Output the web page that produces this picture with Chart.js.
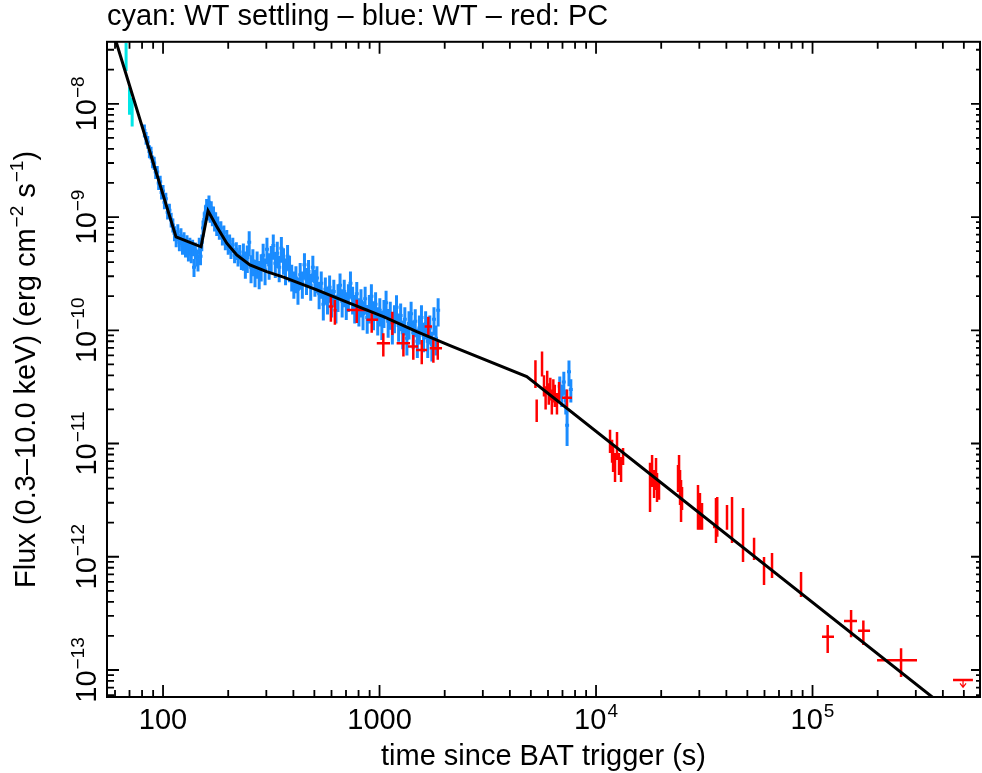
<!DOCTYPE html>
<html>
<head>
<meta charset="utf-8">
<script src="https://cdn.jsdelivr.net/npm/chart.js@4/dist/chart.umd.min.js"></script>
<style>
html,body{margin:0;padding:0;background:#ffffff;}
#wrap{width:982px;height:773px;}
canvas{display:block;}
</style>
</head>
<body>
<div id="wrap"><canvas id="c" width="982" height="773" style="width:982px;height:773px"></canvas></div>
<script>
// ---------- DATA ----------
const chartTitle = 'cyan: WT settling \u2013 blue: WT \u2013 red: PC';
const xAxisTitle = 'time since BAT trigger (s)';
const yAxisTitleParts = [['Flux (0.3\u201310.0 keV) (erg cm', false], ['\u22122', true], [' s', false], ['\u22121', true], [')', false]];

const xTickValues = [100, 1000, 1e4, 1e5];
const xTickLabels = [['100', ''], ['1000', ''], ['10', '4'], ['10', '5']];
const yTickValues = [1e-8, 1e-9, 1e-10, 1e-11, 1e-12, 1e-13];
const yTickLabels = [['10', '\u22128'], ['10', '\u22129'], ['10', '\u221210'], ['10', '\u221211'], ['10', '\u221212'], ['10', '\u221213']];

// WT settling (cyan)
const wtsTime = [67.5, 70, 72];
const wtsFlux = [2.7e-8, 1.1e-8, 8.8e-9];
const wtsErr  = [0.75e-8, 0.3e-8, 2.5e-9];

// WT (blue)
const wtTime = [82,83.5,85,86.5,88,89.5,91,92.5,94,95.5,97,98.5,100,101.5,103,105,107,109,111,113,
115,117,119,121,123,125,127,129,131,133,135,137,139,141,143,145,147,149,
151,153,155,157,159,161,163,165,167,169,171,173,175,177,179,182,185,188,191,194,197,200,203,206,210,214,218,222,226,230,
235,240,245,250,255,260,266,272,278,284,290,296,302,309,316,323,330,337,344,352,360,368,376,384,393,402,411,420,430,440,
450,460,470,481,492,503,514,526,538,550,562,575,588,601,615,629,643,657,672,687,702,718,734,751,768,785,803,821,839,858,
877,897,917,938,959,981,1003,1025,1048,1072,1096,1121,1146,1172,1198,1225,1252,1280,1309,1338,1368,1399,1430,1462,1495,
1528,1562,1597,1633,1670,1707,1745,1784,1824,1865,
6800,6950,7100,7250,7350,7500,7650];
const wtFlux = [5.8e-9,5.0e-9,4.6e-9,3.8e-9,3.7e-9,3.1e-9,3.0e-9,2.5e-9,2.5e-9,2.0e-9,2.05e-9,1.65e-9,1.7e-9,1.35e-9,1.45e-9,1.1e-9,1.15e-9,0.95e-9,0.85e-9,0.72e-9,
6.5e-10,7.4e-10,6.0e-10,6.8e-10,5.6e-10,6.3e-10,5.3e-10,5.9e-10,4.9e-10,5.6e-10,4.7e-10,5.4e-10,3.6e-10,5.1e-10,4.4e-10,4.0e-10,5.6e-10,4.5e-10,
6.0e-10,8.0e-10,9.5e-10,1.1e-9,1.25e-9,1.1e-9,1.35e-9,1.05e-9,1.2e-9,9.8e-10,1.08e-9,8.8e-10,9.6e-10,8.0e-10,8.8e-10,7.4e-10,8.0e-10,6.6e-10,7.3e-10,6.0e-10,6.7e-10,5.5e-10,6.1e-10,5.0e-10,5.7e-10,4.6e-10,5.2e-10,4.3e-10,4.9e-10,4.0e-10,
4.6e-10,3.9e-10,4.4e-10,6.0e-10,3.6e-10,4.1e-10,3.3e-10,3.9e-10,3.2e-10,3.7e-10,4.6e-10,3.4e-10,5.2e-10,3.8e-10,4.4e-10,5.6e-10,3.9e-10,4.8e-10,3.6e-10,5.3e-10,4.2e-10,3.4e-10,4.5e-10,3.6e-10,3.0e-10,2.6e-10,2.9e-10,2.3e-10,3.1e-10,2.6e-10,
3.8e-10,2.8e-10,3.3e-10,2.5e-10,3.6e-10,2.7e-10,2.9e-10,2.1e-10,2.6e-10,1.7e-10,2.3e-10,1.9e-10,2.4e-10,1.8e-10,2.2e-10,1.6e-10,2.0e-10,2.5e-10,1.8e-10,2.2e-10,1.7e-10,2.0e-10,2.6e-10,1.9e-10,1.6e-10,2.1e-10,1.5e-10,1.8e-10,1.4e-10,1.9e-10,
1.3e-10,1.6e-10,2.0e-10,1.4e-10,1.7e-10,1.25e-10,1.5e-10,1.15e-10,1.45e-10,1.75e-10,1.2e-10,1.4e-10,1.05e-10,1.3e-10,1.6e-10,1.1e-10,1.35e-10,0.95e-10,1.25e-10,0.85e-10,1.15e-10,1.4e-10,0.95e-10,1.2e-10,0.8e-10,
1.05e-10,1.3e-10,0.9e-10,1.15e-10,0.8e-10,1.05e-10,0.75e-10,1.25e-10,0.85e-10,1.5e-10,
3.2e-11,2.7e-11,3.5e-11,2.4e-11,1.45e-11,4.3e-11,3.0e-11];
const wtErr = [0.75e-9,0.65e-9,0.6e-9,0.5e-9,0.48e-9,0.4e-9,0.4e-9,0.33e-9,0.33e-9,0.27e-9,0.27e-9,0.22e-9,0.22e-9,0.18e-9,0.19e-9,0.15e-9,0.16e-9,0.14e-9,0.12e-9,0.11e-9,
1.1e-10,1.25e-10,1.0e-10,1.15e-10,0.95e-10,1.05e-10,0.9e-10,1.0e-10,0.85e-10,0.95e-10,0.8e-10,0.9e-10,0.65e-10,0.85e-10,0.75e-10,0.7e-10,0.95e-10,0.75e-10,
1.0e-10,1.3e-10,1.5e-10,1.7e-10,1.9e-10,1.7e-10,2.0e-10,1.6e-10,1.8e-10,1.5e-10,1.6e-10,1.35e-10,1.45e-10,1.2e-10,1.3e-10,1.1e-10,1.2e-10,1.0e-10,1.1e-10,0.9e-10,1.0e-10,0.85e-10,0.9e-10,0.75e-10,0.85e-10,0.7e-10,0.8e-10,0.65e-10,0.75e-10,0.6e-10,
1.25e-10,1.05e-10,1.2e-10,1.5e-10,1.0e-10,1.1e-10,0.9e-10,1.05e-10,0.9e-10,1.0e-10,1.2e-10,0.9e-10,1.35e-10,1.0e-10,1.15e-10,1.4e-10,1.0e-10,1.25e-10,0.95e-10,1.35e-10,1.1e-10,0.9e-10,1.15e-10,0.95e-10,0.8e-10,0.7e-10,0.78e-10,0.62e-10,0.82e-10,0.7e-10,
1.0e-10,0.75e-10,0.88e-10,0.68e-10,0.95e-10,0.72e-10,0.78e-10,0.57e-10,0.7e-10,0.48e-10,0.62e-10,0.52e-10,0.65e-10,0.5e-10,0.6e-10,0.45e-10,0.55e-10,0.67e-10,0.5e-10,0.6e-10,0.47e-10,0.55e-10,0.7e-10,0.52e-10,0.45e-10,0.57e-10,0.42e-10,0.5e-10,0.4e-10,0.52e-10,
0.37e-10,0.45e-10,0.55e-10,0.4e-10,0.47e-10,0.35e-10,0.42e-10,0.33e-10,0.4e-10,0.48e-10,0.34e-10,0.39e-10,0.3e-10,0.36e-10,0.44e-10,0.31e-10,0.37e-10,0.27e-10,0.35e-10,0.25e-10,0.32e-10,0.39e-10,0.27e-10,0.33e-10,0.23e-10,
0.3e-10,0.36e-10,0.26e-10,0.32e-10,0.23e-10,0.3e-10,0.22e-10,0.35e-10,0.25e-10,0.42e-10,
0.7e-11,0.6e-11,0.8e-11,0.6e-11,0.5e-11,1.1e-11,0.7e-11];

// PC (red)
const pcTime   = [596,622,785,920,1041,1146,1289,1432,1567,1680,1773,1858,
5250,5320,5631,5750,5850,5950,6050,6150,6250,6350,6450,6600,6750,7345,
11607,11860,11990,12240,12500,12770,13050,13330,
17760,18150,18540,18930,19130,19540,
23920,24180,24440,24700,24960,
29580,30200,30870,35810,36300,40270,42480,47750,53700,59700,65000,88500,117500,150700,171700,256400];
const pcTimeLo = [582,612,706,870,971,1125,1199,1354,1474,1616,1706,1785,
5200,5270,5580,5710,5810,5910,6010,6110,6210,6310,6410,6550,6700,6966,
11500,11750,11880,12130,12390,12660,12940,13220,
17600,17990,18380,18770,18970,19380,
23720,23980,24240,24500,24760,
29340,29960,30620,34700,36000,39950,42140,47370,53270,59220,64480,87800,110600,139800,162300,198600];
const pcTimeHi = [610,634,888,985,1118,1168,1383,1507,1658,1748,1843,1944,
5300,5370,5680,5790,5890,5990,6090,6190,6290,6390,6490,6650,6800,7745,
11720,11970,12100,12350,12610,12880,13160,13440,
17920,18310,18700,19090,19290,19700,
24120,24380,24640,24900,25160,
29820,30440,31120,36600,36600,40590,42820,48130,54130,60180,65520,89200,125700,160500,184400,303800];
const pcFlux   = [1.62e-10,1.50e-10,1.51e-10,1.24e-10,7.69e-11,1.16e-10,7.69e-11,7.18e-11,6.71e-11,1.08e-10,6.95e-11,6.95e-11,
4.12e-11,1.94e-11,5.05e-11,3.3e-11,2.6e-11,3.6e-11,2.8e-11,3.1e-11,2.4e-11,3.0e-11,2.7e-11,2.3e-11,2.9e-11,2.53e-11,
1.045e-11,8.51e-12,7.24e-12,6.15e-12,9.53e-12,6.6e-12,5.91e-12,7.69e-12,
4.09e-12,5.73e-12,4.4e-12,5.38e-12,4.09e-12,3.81e-12,
4.92e-12,5.97e-12,4.14e-12,3.11e-12,3.27e-12,
2.72e-12,2.51e-12,2.27e-12,1.83e-12,2.25e-12,2.22e-12,2.11e-12,1.56e-12,1.17e-12,7.5e-13,8.47e-13,5.75e-13,1.97e-13,2.71e-13,2.22e-13,1.22e-13];
const pcFluxLo = [1.19e-10,1.12e-10,1.16e-10,0.95e-10,5.86e-11,9.1e-11,5.86e-11,5.48e-11,5.0e-11,9.1e-11,5.16e-11,5.5e-11,
3.1e-11,1.55e-11,3.9e-11,2.6e-11,2.0e-11,2.8e-11,2.2e-11,2.4e-11,1.8e-11,2.3e-11,2.1e-11,1.8e-11,2.3e-11,2.1e-11,
8.26e-12,6.75e-12,5.61e-12,4.58e-12,7.16e-12,5.28e-12,4.58e-12,6.47e-12,
2.49e-12,4.14e-12,3.31e-12,3.89e-12,3.05e-12,3.18e-12,
3.73e-12,4.49e-12,2.87e-12,2.03e-12,2.59e-12,
1.73e-12,1.73e-12,1.73e-12,1.32e-12,1.5e-12,1.73e-12,1.32e-12,9.0e-13,9.37e-13,5.64e-13,6.5e-13,4.42e-13,1.41e-13,1.95e-13,1.66e-13,8.67e-14];
const pcFluxHi = [1.99e-10,1.85e-10,1.86e-10,1.43e-10,9.42e-11,1.46e-10,9.42e-11,9.1e-11,8.2e-11,1.32e-10,8.2e-11,8.0e-11,
5.45e-11,2.45e-11,6.5e-11,4.0e-11,3.2e-11,4.4e-11,3.4e-11,3.8e-11,3.0e-11,3.7e-11,3.3e-11,2.8e-11,3.5e-11,3.0e-11,
1.32e-11,1.077e-11,9.33e-12,8.26e-12,1.265e-11,8.26e-12,7.62e-12,9.14e-12,
6.75e-12,7.92e-12,5.85e-12,7.46e-12,5.5e-12,4.58e-12,
6.47e-12,7.92e-12,5.85e-12,4.76e-12,4.14e-12,
4.31e-12,3.66e-12,2.99e-12,3.31e-12,3.37e-12,2.87e-12,3.37e-12,2.7e-12,1.47e-12,9.95e-13,1.08e-12,7.35e-13,2.5e-13,3.39e-13,2.73e-13,1.56e-13];

// PC upper limit
const pcUlTime = [495700];
const pcUlTimeLo = [445600];
const pcUlTimeHi = [550700];
const pcUlFlux = [8.17e-14];

// Best-fit model (black)
const modelTime = [55, 60.7, 114.8, 149.8, 161.4, 177, 197, 219, 252, 301, 360, 513, 731, 1042, 1486, 2118, 4786, 600000];
const modelFlux = [6.5e-8, 3.53e-8, 6.68e-10, 5.46e-10, 1.135e-9, 8.24e-10, 5.88e-10, 4.63e-10, 3.78e-10, 3.30e-10, 2.95e-10, 2.27e-10, 1.73e-10, 1.32e-10, 9.74e-11, 7.33e-11, 3.90e-11, 2.64e-14];

// ---------- BUILD ----------
const FONT = "'Liberation Sans', Arial, Helvetica, sans-serif";
const symPts = (t, f, e) => t.map((v, i) => ({x: v, y: f[i], yMin: f[i] - e[i], yMax: f[i] + e[i]}));
const asymPts = (t, tl, th, f, fl, fh) => t.map((v, i) => ({x: v, y: f[i], xMin: tl[i], xMax: th[i], yMin: fl[i], yMax: fh[i]}));

const datasets = [
  {label: 'WT settling', data: symPts(wtsTime, wtsFlux, wtsErr), pointRadius: 0, showLine: false, errColor: '#00e6e6', errWidth: 3, capHalf: 1.5},
  {label: 'WT', data: symPts(wtTime, wtFlux, wtErr), pointRadius: 0, showLine: false, errColor: '#1a8cff', errWidth: 3, capHalf: 2},
  {label: 'PC', data: asymPts(pcTime, pcTimeLo, pcTimeHi, pcFlux, pcFluxLo, pcFluxHi), pointRadius: 0, showLine: false, errColor: '#ff0000', errWidth: 2.5, capHalf: 0},
  {label: 'PC upper limit', data: pcUlTime.map((v, i) => ({x: v, y: pcUlFlux[i], xMin: pcUlTimeLo[i], xMax: pcUlTimeHi[i], upper: true})), pointRadius: 0, showLine: false, errColor: '#ff0000', errWidth: 2.5},
  {label: 'Model', type: 'line', data: modelTime.map((v, i) => ({x: v, y: modelFlux[i]})), borderColor: '#000000', borderWidth: 3, pointRadius: 0, fill: false, tension: 0}
];

function logTickSets(min, max) {
  const major = [], minor = [];
  for (let d = Math.floor(Math.log10(min)); d <= Math.ceil(Math.log10(max)); d++) {
    for (let k = 1; k <= 9; k++) {
      const v = k * Math.pow(10, d);
      if (v >= min && v <= max) (k === 1 ? major : minor).push(v);
    }
  }
  return {major, minor};
}

function drawPow(ctx, base, exp, x, y, align, bs, es, rise) {
  ctx.font = bs + 'px ' + FONT;
  const wb = ctx.measureText(base).width;
  ctx.font = es + 'px ' + FONT;
  const we = exp ? ctx.measureText(exp).width : 0;
  const total = wb + (exp ? we + 1 : 0);
  const x0 = align === 'center' ? x - total / 2 : (align === 'right' ? x - total : x);
  ctx.textAlign = 'left';
  ctx.textBaseline = 'alphabetic';
  ctx.font = bs + 'px ' + FONT;
  ctx.fillText(base, x0, y);
  if (exp) {
    ctx.font = es + 'px ' + FONT;
    ctx.fillText(exp, x0 + wb + 1, y - rise);
  }
}

const errPlugin = {
  id: 'errbars',
  beforeDatasetsDraw(chart) {
    const {ctx, chartArea: a} = chart;
    const xs = chart.scales.x, ys = chart.scales.y;
    ctx.save();
    ctx.beginPath();
    ctx.rect(a.left, a.top, a.right - a.left, a.bottom - a.top);
    ctx.clip();
    ctx.lineCap = 'butt';
    chart.data.datasets.forEach(ds => {
      if (!ds.errColor) return;
      ctx.strokeStyle = ds.errColor;
      ctx.fillStyle = ds.errColor;
      ctx.lineWidth = ds.errWidth;
      ds.data.forEach(p => {
        const px = xs.getPixelForValue(p.x), py = ys.getPixelForValue(p.y);
        ctx.beginPath();
        if (p.upper) {
          ctx.moveTo(xs.getPixelForValue(p.xMin), py);
          ctx.lineTo(xs.getPixelForValue(p.xMax), py);
          ctx.stroke();
          ctx.lineWidth = 1.2;
          const tip = ys.getPixelForValue(p.y * 0.86);
          ctx.beginPath();
          ctx.moveTo(px, py); ctx.lineTo(px, tip);
          ctx.moveTo(px - 3, tip - 4); ctx.lineTo(px, tip); ctx.lineTo(px + 3, tip - 4);
          ctx.stroke();
          ctx.lineWidth = ds.errWidth;
          return;
        }
        const y1 = ys.getPixelForValue(p.yMin), y2 = ys.getPixelForValue(p.yMax);
        ctx.moveTo(px, y1); ctx.lineTo(px, y2);
        if (p.xMin !== undefined) {
          ctx.moveTo(xs.getPixelForValue(p.xMin), py);
          ctx.lineTo(xs.getPixelForValue(p.xMax), py);
        } else if (ds.capHalf) {
          ctx.moveTo(px - ds.capHalf, py); ctx.lineTo(px + ds.capHalf, py);
        }
        ctx.stroke();
      });
    });
    ctx.restore();
  },
  afterDraw(chart) {
    const {ctx, chartArea: a} = chart;
    const xs = chart.scales.x, ys = chart.scales.y;
    ctx.save();
    ctx.strokeStyle = '#000';
    ctx.fillStyle = '#000';
    // frame
    ctx.lineWidth = 2;
    ctx.strokeRect(a.left, a.top, a.right - a.left, a.bottom - a.top);
    // ticks
    const xt = logTickSets(xs.min, xs.max), yt = logTickSets(ys.min, ys.max);
    ctx.lineWidth = 1.8;
    ctx.beginPath();
    xt.major.concat(xt.minor).forEach((v, i) => {
      const len = i < xt.major.length ? 12 : 7;
      const px = xs.getPixelForValue(v);
      ctx.moveTo(px, a.bottom); ctx.lineTo(px, a.bottom - len);
      ctx.moveTo(px, a.top); ctx.lineTo(px, a.top + len);
    });
    yt.major.concat(yt.minor).forEach((v, i) => {
      const maj = i < yt.major.length;
      const py = ys.getPixelForValue(v);
      ctx.moveTo(a.left, py); ctx.lineTo(a.left + (maj ? 12 : 7), py);
      ctx.moveTo(a.right, py); ctx.lineTo(a.right - (maj ? 9 : 4), py);
    });
    ctx.stroke();
    // x tick labels
    xTickValues.forEach((v, i) => {
      const px = xs.getPixelForValue(v);
      drawPow(ctx, xTickLabels[i][0], xTickLabels[i][1], px, a.bottom + 32, 'center', 29, 19, 12);
    });
    // y tick labels (rotated, reading upwards)
    yTickValues.forEach((v, i) => {
      const py = ys.getPixelForValue(v);
      ctx.save();
      ctx.translate(a.left - 11, py);
      ctx.rotate(-Math.PI / 2);
      drawPow(ctx, yTickLabels[i][0], yTickLabels[i][1], 0, 0, 'center', 29, 19, 12);
      ctx.restore();
    });
    // x title
    ctx.font = '29px ' + FONT;
    ctx.textAlign = 'center';
    ctx.textBaseline = 'alphabetic';
    ctx.fillText(xAxisTitle, (a.left + a.right) / 2, a.bottom + 68);
    // y title (rotated)
    ctx.translate(35, (a.top + a.bottom) / 2);
    ctx.rotate(-Math.PI / 2);
    let total = 0;
    const widths = yAxisTitleParts.map(([s, sup]) => {
      ctx.font = (sup ? 19 : 29) + 'px ' + FONT;
      const w = ctx.measureText(s).width + (sup ? 1 : 0);
      total += w;
      return w;
    });
    let cx = -total / 2;
    ctx.textAlign = 'left';
    yAxisTitleParts.forEach(([s, sup], i) => {
      ctx.font = (sup ? 19 : 29) + 'px ' + FONT;
      ctx.fillText(s, cx + (sup ? 1 : 0), sup ? -12 : 0);
      cx += widths[i];
    });
    ctx.restore();
  }
};

new Chart(document.getElementById('c'), {
  type: 'scatter',
  data: {datasets},
  options: {
    responsive: false,
    animation: false,
    devicePixelRatio: 1,
    layout: {padding: {left: 107, right: 2, top: 0, bottom: 76}},
    plugins: {
      legend: {display: false},
      tooltip: {enabled: false},
      title: {display: true, text: chartTitle, align: 'start', color: '#000',
        font: {family: FONT, size: 29, weight: 'normal', lineHeight: 1.2}, padding: {top: 0, bottom: 7}}
    },
    scales: {
      x: {type: 'logarithmic', min: 55.1, max: 593700, display: false},
      y: {type: 'logarithmic', min: 5.775e-14, max: 3.528e-8, display: false}
    }
  },
  plugins: [errPlugin]
});
</script>
</body>
</html>
